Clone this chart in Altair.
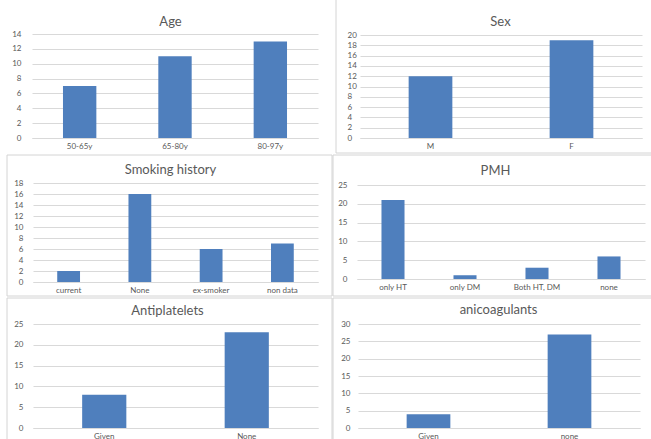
import altair as alt
import pandas as pd

# ---- data -------------------------------------------------------------
age_cats = ["50-65y", "65-80y", "80-97y"]
age_vals = [7, 11, 13]
age_ticks = [0, 2, 4, 6, 8, 10, 12, 14]

sex_cats = ["M", "F"]
sex_vals = [12, 19]
sex_ticks = [0, 2, 4, 6, 8, 10, 12, 14, 16, 18, 20]

smoke_cats = ["current", "None", "ex-smoker", "non data"]
smoke_vals = [2, 16, 6, 7]
smoke_ticks = [0, 2, 4, 6, 8, 10, 12, 14, 16, 18]

pmh_cats = ["only HT", "only DM", "Both  HT, DM", "none"]
pmh_vals = [21, 1, 3, 6]
pmh_ticks = [0, 5, 10, 15, 20, 25]

anti_cats = ["Given", "None"]
anti_vals = [8, 23]
anti_ticks = [0, 5, 10, 15, 20, 25]

coag_cats = ["Given", "none"]
coag_vals = [4, 27]
coag_ticks = [0, 5, 10, 15, 20, 25, 30]

# ---- layout & style -----------------------------------------------------
W, H = 651, 439
BAR = "#4F7FBD"
GRID = "#D9D9D9"
TEXT = "#595959"
FRAME = "#D4D4D4"
FONT = "Lato"

# plot rectangle (left, right, top, bottom), title centre, y-label placement, bar fraction
panels = [
    dict(title="Age", cats=age_cats, vals=age_vals, ticks=age_ticks,
         plot=(32, 318, 34, 138), tpos=(170, 21), lpad=11, lalign="right", bar=0.35),
    dict(title="Sex", cats=sex_cats, vals=sex_vals, ticks=sex_ticks,
         plot=(360, 642, 35, 138), tpos=(500, 21), lpad=13, lalign="left", bar=0.31),
    dict(title="Smoking history", cats=smoke_cats, vals=smoke_vals, ticks=smoke_ticks,
         plot=(33, 318, 183, 282), tpos=(170, 169), lpad=10, lalign="right", bar=0.32),
    dict(title="PMH", cats=pmh_cats, vals=pmh_vals, ticks=pmh_ticks,
         plot=(357, 645, 185, 279), tpos=(495, 170), lpad=10, lalign="right", bar=0.32),
    dict(title="Antiplatelets", cats=anti_cats, vals=anti_vals, ticks=anti_ticks,
         plot=(33, 318, 324, 428), tpos=(167, 310), lpad=10, lalign="right", bar=0.31),
    dict(title="anicoagulants", cats=coag_cats, vals=coag_vals, ticks=coag_ticks,
         plot=(358, 640, 324, 428), tpos=(498, 309), lpad=8, lalign="right", bar=0.31),
]

# faint frames around the individual chart boxes (x1, x2, y1, y2)
frames = [
    (336, 660, -5, 153),
    (7, 332, 155, 296),
    (333, 660, 155, 296),
    (7, 332, 298, 445),
    (333, 660, 298, 445),
]

blank = pd.DataFrame({"k": [0]})
frame_layers = [
    alt.Chart(blank)
    .mark_rect(filled=False, stroke=FRAME, strokeWidth=1)
    .encode(x=alt.value(x1), x2=alt.value(x2), y=alt.value(y1), y2=alt.value(y2))
    for (x1, x2, y1, y2) in frames
]


def bar_panel(p):
    df = pd.DataFrame({"category": p["cats"], "count": p["vals"]})
    x0, x1, yt, yb = p["plot"]
    tx, ty = p["tpos"]
    gap = 1 - p["bar"]
    x_enc = alt.X(
        "category:N",
        sort=p["cats"],
        scale=alt.Scale(domain=p["cats"], range=[x0, x1],
                        paddingInner=gap, paddingOuter=gap / 2),
        axis=alt.Axis(
            orient="bottom", offset=yb - H, labelAngle=0, ticks=False, grid=False,
            domainColor=GRID, domainWidth=1,
            labelFont=FONT, labelFontSize=8, labelColor=TEXT, labelPadding=4,
            title=p["title"], titleX=tx, titleY=ty - yb,
            titleAlign="center", titleBaseline="middle", titleAngle=0,
            titleFont=FONT, titleFontSize=13, titleFontWeight="normal",
            titleColor=TEXT,
        ),
    )
    y_enc = alt.Y(
        "count:Q",
        scale=alt.Scale(domain=[p["ticks"][0], p["ticks"][-1]], range=[yb, yt],
                        nice=False, zero=True),
        axis=alt.Axis(
            orient="left", offset=-x0, values=p["ticks"], title=None,
            domain=False, ticks=False, grid=True, gridColor=GRID, gridWidth=1,
            labelFont=FONT, labelFontSize=8, labelColor=TEXT,
            labelPadding=p["lpad"], labelAlign=p["lalign"], labelOverlap=False,
        ),
    )
    return alt.Chart(df).mark_bar(color=BAR).encode(x=x_enc, y=y_enc)


chart = (
    alt.layer(*frame_layers, *[bar_panel(p) for p in panels])
    .resolve_scale(x="independent", y="independent")
    .resolve_axis(x="independent", y="independent")
    .properties(width=W, height=H, padding=0, autosize="none", background="white")
    .configure_view(stroke=None)
)

chart.save("out.html", embed_options={"renderer": "svg", "actions": False})
